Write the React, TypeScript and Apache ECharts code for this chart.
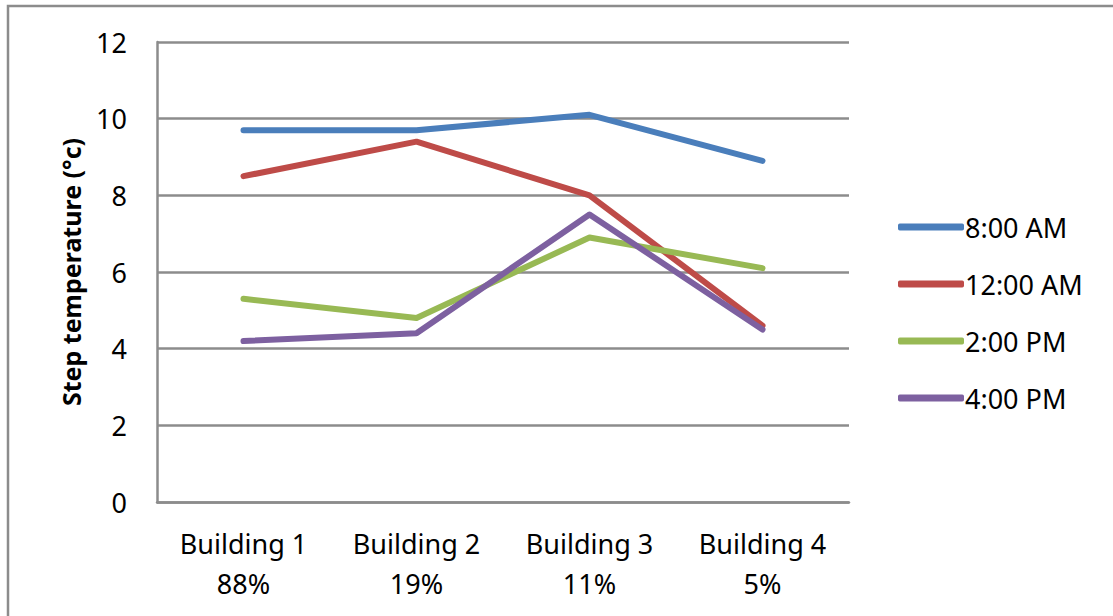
import React, { useEffect, useRef } from "react";
import * as echarts from "echarts";

const categories = ["Building 1\n88%", "Building 2\n19%", "Building 3\n11%", "Building 4\n5%"];
const seriesNames = ["8:00 AM", "12:00 AM", "2:00 PM", "4:00 PM"];
const am8 = [9.7, 9.7, 10.1, 8.9];
const am12 = [8.5, 9.4, 8.0, 4.6];
const pm2 = [5.3, 4.8, 6.9, 6.1];
const pm4 = [4.2, 4.4, 7.5, 4.5];
const colors = ["#4a7ebb", "#be4b48", "#98b954", "#7d60a0"];

const FONT = "'Noto Sans', 'DejaVu Sans', sans-serif";
const GRID_COLOR = "#8c8c8c";

export default function App() {
  const ref = useRef<HTMLDivElement>(null);

  useEffect(() => {
    document.body.style.margin = "0";
    if (!ref.current) return;
    const chart = echarts.init(ref.current, undefined, { renderer: "svg" });
    const values = [am8, am12, pm2, pm4];
    chart.setOption({
      animation: false,
      backgroundColor: "#ffffff",
      textStyle: { fontFamily: FONT },
      graphic: [
        {
          type: "rect",
          shape: { x: 8, y: 6, width: 1300, height: 800 },
          style: { fill: "none", stroke: "#8c8c8c", lineWidth: 2.5 },
          silent: true,
          z: -1,
        },
      ],
      grid: { left: 157, right: 264, top: 42, bottom: 114, containLabel: false },
      legend: {
        orient: "vertical",
        left: 893,
        top: 207,
        icon: "roundRect",
        itemWidth: 66,
        itemHeight: 7,
        itemGap: 27,
        data: seriesNames,
        textStyle: { fontFamily: FONT, fontSize: 27, color: "#000", lineHeight: 30, padding: [0, 0, 0, -4] },
      },
      xAxis: {
        type: "category",
        data: categories,
        boundaryGap: true,
        axisLine: { show: true, lineStyle: { color: GRID_COLOR, width: 2.5 } },
        axisTick: { show: false },
        axisLabel: {
          fontFamily: FONT,
          fontSize: 27,
          lineHeight: 40,
          color: "#000",
          margin: 21,
          interval: 0,
        },
      },
      yAxis: {
        type: "value",
        min: 0,
        max: 12,
        interval: 2,
        name: "Step temperature (°c)",
        nameLocation: "middle",
        nameGap: 74,
        nameTextStyle: { fontFamily: FONT, fontSize: 25, fontWeight: "bold", color: "#000" },
        axisLine: { show: true, lineStyle: { color: GRID_COLOR, width: 2.5 } },
        axisTick: { show: false },
        axisLabel: { fontFamily: FONT, fontSize: 27, color: "#000", margin: 30 },
        splitLine: { show: true, lineStyle: { color: GRID_COLOR, width: 2.5 } },
      },
      series: seriesNames.map((name, i) => ({
        name,
        type: "line",
        data: values[i],
        symbol: "none",
        color: colors[i],
        lineStyle: { color: colors[i], width: 6, cap: "round", join: "round" },
      })),
    });
    return () => chart.dispose();
  }, []);

  return <div ref={ref} style={{ width: 1113, height: 616 }} />;
}
